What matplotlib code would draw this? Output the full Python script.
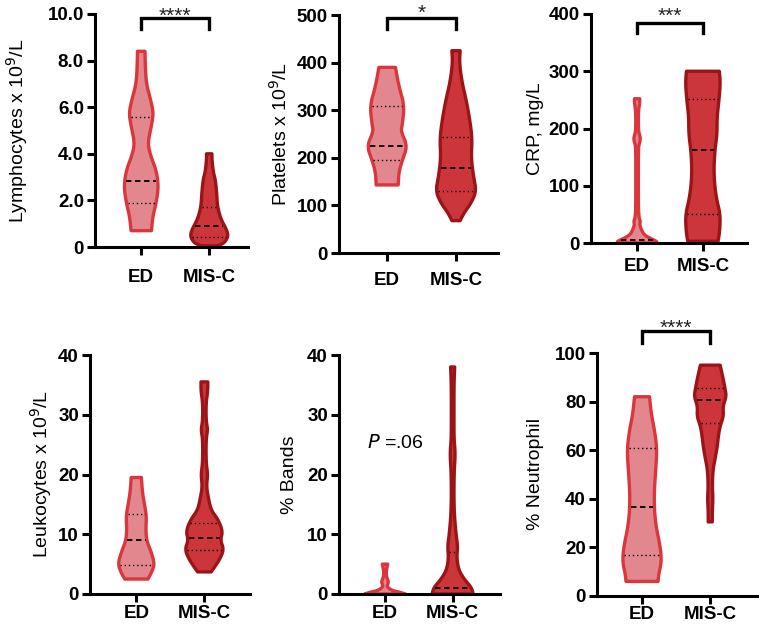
"""Violin plots: ED vs MIS-C lab values."""

import matplotlib
matplotlib.use("Agg")
import matplotlib.pyplot as plt
import numpy as np

plt.rcParams["font.family"] = ["Liberation Sans", "DejaVu Sans"]

groups = ["ED", "MIS-C"]

# violin outlines: value levels and relative density (half width)
lymph_ed_y = [0.7, 1.3, 1.9, 2.6, 3.3, 3.9, 4.45, 5.2, 5.75, 6.3, 7.0, 7.75, 8.4]
lymph_ed_d = [0.15, 0.17, 0.22, 0.255, 0.22, 0.14, 0.095, 0.15, 0.18, 0.14, 0.075, 0.06, 0.055]
lymph_mis_y = [0.05, 0.17, 0.45, 0.75, 1.2, 1.75, 2.3, 2.9, 3.2, 3.75, 4.0]
lymph_mis_d = [0.12, 0.22, 0.28, 0.255, 0.17, 0.12, 0.11, 0.09, 0.06, 0.04, 0.04]
lymph_ed_q = [1.9, 2.85, 5.6]
lymph_mis_q = [0.45, 0.9, 1.7]

plt_ed_y = [143, 170, 195, 225, 255, 270, 310, 350, 390]
plt_ed_d = [0.16, 0.17, 0.22, 0.295, 0.2, 0.22, 0.25, 0.17, 0.12]
plt_mis_y = [68, 85, 105, 130, 160, 200, 240, 280, 320, 360, 400, 425]
plt_mis_d = [0.06, 0.12, 0.22, 0.295, 0.255, 0.22, 0.235, 0.2, 0.15, 0.085, 0.05, 0.06]
plt_ed_q = [195, 224, 308]
plt_mis_q = [130, 178, 243]

crp_ed_y = [0, 3, 8, 15, 25, 32, 38, 44, 60, 120, 168, 176, 182, 188, 196, 230, 245, 252]
crp_ed_d = [0.3, 0.3, 0.2, 0.1, 0.06, 0.04, 0.05, 0.03, 0.02, 0.02, 0.02, 0.04, 0.05, 0.04, 0.02, 0.02, 0.04, 0.04]
crp_mis_y = [3, 20, 50, 80, 120, 160, 190, 220, 250, 280, 300]
crp_mis_d = [0.23, 0.255, 0.265, 0.2, 0.165, 0.18, 0.215, 0.215, 0.245, 0.265, 0.25]
crp_ed_q = [5]
crp_mis_q = [50, 163, 252]

leuk_ed_y = [2.5, 3.5, 5, 7, 9, 11, 13, 15, 17, 19.5]
leuk_ed_d = [0.17, 0.22, 0.27, 0.22, 0.15, 0.14, 0.15, 0.12, 0.09, 0.075]
leuk_mis_y = [3.7, 4.5, 6, 7.5, 9, 10.5, 12.5, 14, 16, 18, 20, 22, 26, 27.5, 29, 32, 34, 35.5]
leuk_mis_d = [0.1, 0.15, 0.235, 0.285, 0.235, 0.27, 0.2, 0.1, 0.06, 0.03, 0.05, 0.025, 0.025, 0.05, 0.025, 0.025, 0.05, 0.05]
leuk_ed_q = [4.8, 9.1, 13.4]
leuk_mis_q = [7.3, 9.3, 11.8]

bands_ed_y = [0, 0.3, 0.6, 1.2, 1.6, 2.0, 2.4, 3, 4, 5]
bands_ed_d = [0.3, 0.22, 0.1, 0.03, 0.04, 0.05, 0.04, 0.02, 0.02, 0.04]
bands_mis_y = [0, 0.3, 1.2, 2.5, 4, 6, 8, 10, 14, 20, 23.5, 26, 30, 35, 38]
bands_mis_d = [0.3, 0.3, 0.27, 0.17, 0.09, 0.06, 0.075, 0.05, 0.02, 0.02, 0.04, 0.02, 0.02, 0.02, 0.03]
bands_ed_q = []
bands_mis_q = [0, 1.0, 7]

neut_ed_y = [6, 9, 14, 20, 30, 40, 50, 60, 68, 75, 82]
neut_ed_d = [0.235, 0.245, 0.285, 0.27, 0.195, 0.175, 0.195, 0.22, 0.185, 0.135, 0.11]
neut_mis_y = [30.5, 35, 40, 45, 52, 57, 62, 66, 70, 74, 78, 82, 85, 90, 95]
neut_mis_d = [0.03, 0.03, 0.04, 0.03, 0.04, 0.075, 0.105, 0.12, 0.145, 0.195, 0.185, 0.235, 0.22, 0.185, 0.145]
neut_ed_q = [17, 36.5, 61]
neut_mis_q = [71, 80.5, 85.5]

panels = [
    dict(label="Lymphocytes x 10$^{9}$/L", ylim=10, ticks=[0, 2, 4, 6, 8, 10],
         ticklabels=["0", "2.0", "4.0", "6.0", "8.0", "10.0"],
         ed=(lymph_ed_y, lymph_ed_d, lymph_ed_q), mis=(lymph_mis_y, lymph_mis_d, lymph_mis_q),
         sig="****", bracket=(9.83, 9.36, 9.67), box=(95, 14, 248, 247), xl=(-0.68, 1.57),
         lab_off=65, xpad=10),
    dict(label="Platelets x 10$^{9}$/L", ylim=500, ticks=[0, 100, 200, 300, 400, 500],
         ticklabels=None,
         ed=(plt_ed_y, plt_ed_d, plt_ed_q), mis=(plt_mis_y, plt_mis_d, plt_mis_q),
         sig="*", bracket=(493, 470, 492), box=(339, 15, 498, 253), xl=(-0.7, 1.61),
         lab_off=48, xpad=7.5),
    dict(label="CRP, mg/L", ylim=400, ticks=[0, 100, 200, 300, 400], ticklabels=None,
         ed=(crp_ed_y, crp_ed_d, crp_ed_q), mis=(crp_mis_y, crp_mis_d, crp_mis_q),
         sig="***", bracket=(384, 366, 387), box=(591, 14, 747, 243), xl=(-0.7, 1.67),
         lab_off=47, xpad=4.5),
    dict(label="Leukocytes x 10$^{9}$/L", ylim=40, ticks=[0, 10, 20, 30, 40], ticklabels=None,
         ed=(leuk_ed_y, leuk_ed_d, leuk_ed_q), mis=(leuk_mis_y, leuk_mis_d, leuk_mis_q),
         sig=None, bracket=None, box=(90, 355, 250, 594), xl=(-0.68, 1.67),
         lab_off=36, xpad=2),
    dict(label="% Bands", ylim=40, ticks=[0, 10, 20, 30, 40], ticklabels=None,
         ed=(bands_ed_y, bands_ed_d, bands_ed_q), mis=(bands_mis_y, bands_mis_d, bands_mis_q),
         sig=None, bracket=None, box=(339, 355, 500, 594), xl=(-0.68, 1.7),
         lab_off=41, xpad=2),
    dict(label="% Neutrophil", ylim=100, ticks=[0, 20, 40, 60, 80, 100], ticklabels=None,
         ed=(neut_ed_y, neut_ed_d, neut_ed_q), mis=(neut_mis_y, neut_mis_d, neut_mis_q),
         sig="****", bracket=(109, 104, 107.7), box=(597, 353, 758, 596), xl=(-0.66, 1.7),
         lab_off=53, xpad=1),
]

ED_FILL, ED_EDGE = "#e2878d", "#d9363e"
MIS_FILL, MIS_EDGE = "#cc353a", "#9b1518"

W, H = 759, 626
fig = plt.figure(figsize=(W / 100, H / 100), dpi=100)


def chaikin(ys, ds, n=3):
    # corner cutting so the outline looks rounded, endpoints kept
    pts = np.column_stack([ys, ds])
    for _ in range(n):
        q = 0.75 * pts[:-1] + 0.25 * pts[1:]
        r = 0.25 * pts[:-1] + 0.75 * pts[1:]
        mid = np.empty((2 * len(q), 2))
        mid[0::2], mid[1::2] = q, r
        pts = np.vstack([pts[:1], mid, pts[-1:]])
    return pts[:, 0], pts[:, 1]


def draw_violin(ax, pos, ys, dens, quart, fill, edge):
    ys = np.asarray(ys, float)
    d = np.asarray(dens, float)
    sy, sd = chaikin(ys, d)
    xs = np.concatenate([pos - sd, (pos + sd)[::-1]])
    yy = np.concatenate([sy, sy[::-1]])
    ax.fill(xs, yy, facecolor=fill, edgecolor=edge, linewidth=2.4,
            joinstyle="round", zorder=2, clip_on=False)
    for i, q in enumerate(quart):
        hw = np.interp(q, sy, sd) - 0.02
        if hw <= 0:
            continue
        median = len(quart) == 3 and i == 1 or len(quart) == 1
        ax.plot([pos - hw, pos + hw], [q, q], color="black",
                linestyle=(0, (3, 2)) if median else (0, (1, 2)),
                linewidth=1.3 if median else 1.0, zorder=3)


for p in panels:
    l, t, r, b = p["box"]
    ax = fig.add_axes([l / W, 1 - b / H, (r - l) / W, (b - t) / H])
    draw_violin(ax, 0, *p["ed"], ED_FILL, ED_EDGE)
    draw_violin(ax, 1, *p["mis"], MIS_FILL, MIS_EDGE)
    ax.set_xlim(*p["xl"])
    ax.set_ylim(0, p["ylim"])
    ax.set_yticks(p["ticks"])
    if p["ticklabels"]:
        ax.set_yticklabels(p["ticklabels"])
    ax.set_xticks([0, 1])
    ax.set_xticklabels(groups)
    for side in ["top", "right"]:
        ax.spines[side].set_visible(False)
    for side in ["left", "bottom"]:
        ax.spines[side].set_linewidth(2.2)
    ax.tick_params(width=2.2, length=6, labelsize=13.5)
    ax.tick_params(axis="x", pad=p["xpad"])
    ax.tick_params(axis="y", pad=2)
    for lab in ax.get_xticklabels() + ax.get_yticklabels():
        lab.set_fontweight("bold")
    ax.set_ylabel(p["label"], fontsize=14)
    ax.yaxis.set_label_coords(-p["lab_off"] / (r - l), 0.5)
    if p["bracket"]:
        top, leg, star = p["bracket"]
        ax.plot([0, 0, 1, 1], [leg, top, top, leg], color="black", linewidth=2.4,
                clip_on=False, solid_joinstyle="miter")
        ax.text(0.5, star, p["sig"], ha="center", va="baseline", fontsize=15,
                color="#222222")

ax5 = fig.axes[4]
ax5.text(-0.27, 25.2, "$P$ =.06", fontsize=14, ha="left", va="center")

fig.savefig("out.png", dpi=100)
